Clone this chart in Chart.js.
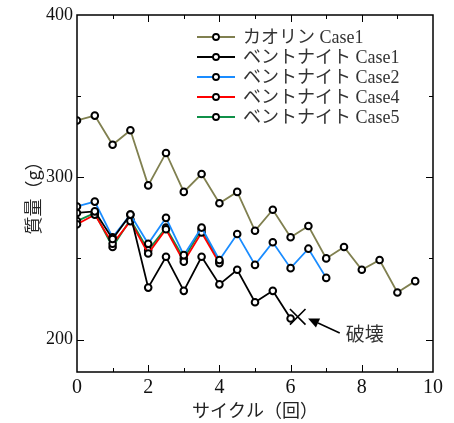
<!DOCTYPE html>
<html>
<head>
<meta charset="utf-8">
<script src="https://cdn.jsdelivr.net/npm/chart.js@4.4.1/dist/chart.umd.min.js"></script>
<style>
  html, body { margin: 0; padding: 0; background: #fff; }
  #wrap { width: 454px; height: 423px; }
</style>
</head>
<body>
<div id="wrap"><canvas id="chart" width="454" height="423"></canvas></div>
<script>
// half-cycle steps
const cycles = [0, 0.5, 1, 1.5, 2, 2.5, 3, 3.5, 4, 4.5, 5, 5.5, 6, 6.5, 7, 7.5, 8, 8.5, 9, 9.5];

const seriesLabels = ['カオリン Case1', 'ベントナイト Case1', 'ベントナイト Case2', 'ベントナイト Case4', 'ベントナイト Case5'];
const seriesColours = ['#808050', '#000000', '#1a8cff', '#ff0000', '#109048'];

const kaolinCase1 = [335, 338, 320, 329, 295, 315, 291, 302, 284, 291, 267, 280, 263, 270, 250, 257, 243, 249, 229, 236];
const bentCase1 = [278, 279, 262, 277, 232, 251, 230, 251, 234, 243, 223, 230, 213];
const bentCase2 = [282, 285, 263, 277, 259, 275, 252, 269, 249, 265, 246, 260, 244, 256, 238];
const bentCase4 = [271, 277, 259, 273, 253, 268, 248, 266, 247];
const bentCase5 = [273, 278, 257, 274, 255, 269, 250, 268, 248];

// failure mark and its note
const breakPoint = { x: 6.2, y: 214 };
const arrowFrom = { x: 7.38, y: 204 };
const arrowTo = { x: 6.49, y: 213 };
const breakText = '破壊';

const xTickLabels = [0, 2, 4, 6, 8, 10];
const yTickLabels = [200, 300, 400];

const toPoints = (values) => values.map((v, i) => ({ x: cycles[i], y: v }));
const allSeries = [kaolinCase1, bentCase1, bentCase2, bentCase4, bentCase5];

const serif = '"Liberation Serif", "Noto Sans CJK JP", serif';
const cjk = '"Noto Sans CJK JP", "Liberation Serif", sans-serif';

const datasets = allSeries.map((values, i) => ({
  label: seriesLabels[i],
  data: toPoints(values),
  borderColor: seriesColours[i],
  borderWidth: 1.8,
  pointRadius: 3.3,
  pointBorderWidth: 2,
  pointBorderColor: '#000',
  pointBackgroundColor: '#fff',
  tension: 0,
}));

datasets.push({
  label: 'break',
  data: [breakPoint],
  showLine: false,
  pointStyle: 'crossRot',
  pointRadius: 11,
  pointBorderWidth: 1.6,
  pointBorderColor: '#000',
  borderColor: '#000',
});

// frame, inward ticks, legend and the arrow note
const decorations = {
  id: 'decorations',
  afterDraw(chart) {
    const { ctx, chartArea: a, scales } = chart;
    const xs = scales.x, ys = scales.y;
    ctx.save();
    ctx.strokeStyle = '#000';
    ctx.lineWidth = 1.5;
    ctx.strokeRect(a.left, a.top, a.right - a.left, a.bottom - a.top);

    ctx.lineWidth = 1;
    ctx.beginPath();
    for (let v = 1; v < 10; v++) {
      const len = v % 2 === 0 ? 7 : 4;
      const px = Math.round(xs.getPixelForValue(v)) + 0.5;
      ctx.moveTo(px, a.bottom); ctx.lineTo(px, a.bottom - len);
      ctx.moveTo(px, a.top); ctx.lineTo(px, a.top + len);
    }
    for (let v = 200; v < 400; v += 50) {
      const len = v % 100 === 0 ? 7 : 4;
      const py = Math.round(ys.getPixelForValue(v)) + 0.5;
      ctx.moveTo(a.left, py); ctx.lineTo(a.left + len, py);
      ctx.moveTo(a.right, py); ctx.lineTo(a.right - len, py);
    }
    ctx.stroke();

    // legend
    ctx.font = '18px ' + serif;
    ctx.textBaseline = 'middle';
    ctx.textAlign = 'left';
    for (let i = 0; i < seriesLabels.length; i++) {
      const y = a.top + 22 + i * 20;
      const x0 = a.left + 120;
      ctx.strokeStyle = seriesColours[i];
      ctx.lineWidth = 1.8;
      ctx.beginPath();
      ctx.moveTo(x0, y); ctx.lineTo(x0 + 38, y);
      ctx.stroke();
      ctx.beginPath();
      ctx.arc(x0 + 19, y, 3, 0, Math.PI * 2);
      ctx.fillStyle = '#fff';
      ctx.fill();
      ctx.strokeStyle = '#000';
      ctx.lineWidth = 1.8;
      ctx.stroke();
      ctx.fillStyle = '#333';
      ctx.fillText(seriesLabels[i], x0 + 46, y + 1);
    }

    // arrow pointing at the failure
    const fx = xs.getPixelForValue(arrowFrom.x), fy = ys.getPixelForValue(arrowFrom.y);
    const tx = xs.getPixelForValue(arrowTo.x), ty = ys.getPixelForValue(arrowTo.y);
    const ang = Math.atan2(ty - fy, tx - fx);
    const headLen = 11, headW = 5;
    const bx = tx - headLen * Math.cos(ang), by = ty - headLen * Math.sin(ang);
    ctx.strokeStyle = '#000';
    ctx.lineWidth = 1.5;
    ctx.beginPath();
    ctx.moveTo(fx, fy); ctx.lineTo(bx, by);
    ctx.stroke();
    ctx.beginPath();
    ctx.moveTo(tx, ty);
    ctx.lineTo(bx + headW * Math.sin(ang), by - headW * Math.cos(ang));
    ctx.lineTo(bx - headW * Math.sin(ang), by + headW * Math.cos(ang));
    ctx.closePath();
    ctx.fillStyle = '#000';
    ctx.fill();

    ctx.font = '19px ' + cjk;
    ctx.fillStyle = '#333';
    ctx.fillText(breakText, fx + 6, fy + 1);
    ctx.restore();
  },
};

new Chart(document.getElementById('chart'), {
  type: 'line',
  data: { datasets },
  plugins: [decorations],
  options: {
    responsive: false,
    animation: false,
    layout: { padding: { top: 15, right: 21, left: 0, bottom: 0 } },
    plugins: { legend: { display: false }, tooltip: { enabled: false } },
    scales: {
      x: {
        type: 'linear',
        min: 0,
        max: 10,
        grid: { display: false, drawTicks: false },
        border: { display: false },
        afterBuildTicks: (s) => { s.ticks = xTickLabels.map((v) => ({ value: v })); },
        afterFit: (s) => { s.height = 51; },
        ticks: { font: { family: serif, size: 20 }, color: '#111', padding: 4, maxRotation: 0 },
        title: {
          display: true,
          text: 'サイクル（回）',
          font: { family: cjk, size: 18 },
          color: '#222',
          padding: { top: 0, bottom: 2 },
        },
      },
      y: {
        min: 180,
        max: 400,
        grid: { display: false, drawTicks: false },
        border: { display: false },
        afterBuildTicks: (s) => { s.ticks = yTickLabels.map((v) => ({ value: v })); },
        afterFit: (s) => { s.width = 77; },
        ticks: { font: { family: serif, size: 18 }, color: '#111', padding: 4 },
        title: {
          display: true,
          text: '質量（g）',
          font: { family: cjk, size: 18 },
          color: '#222',
          padding: { top: 22, bottom: 0 },
        },
      },
    },
  },
});
</script>
</body>
</html>
